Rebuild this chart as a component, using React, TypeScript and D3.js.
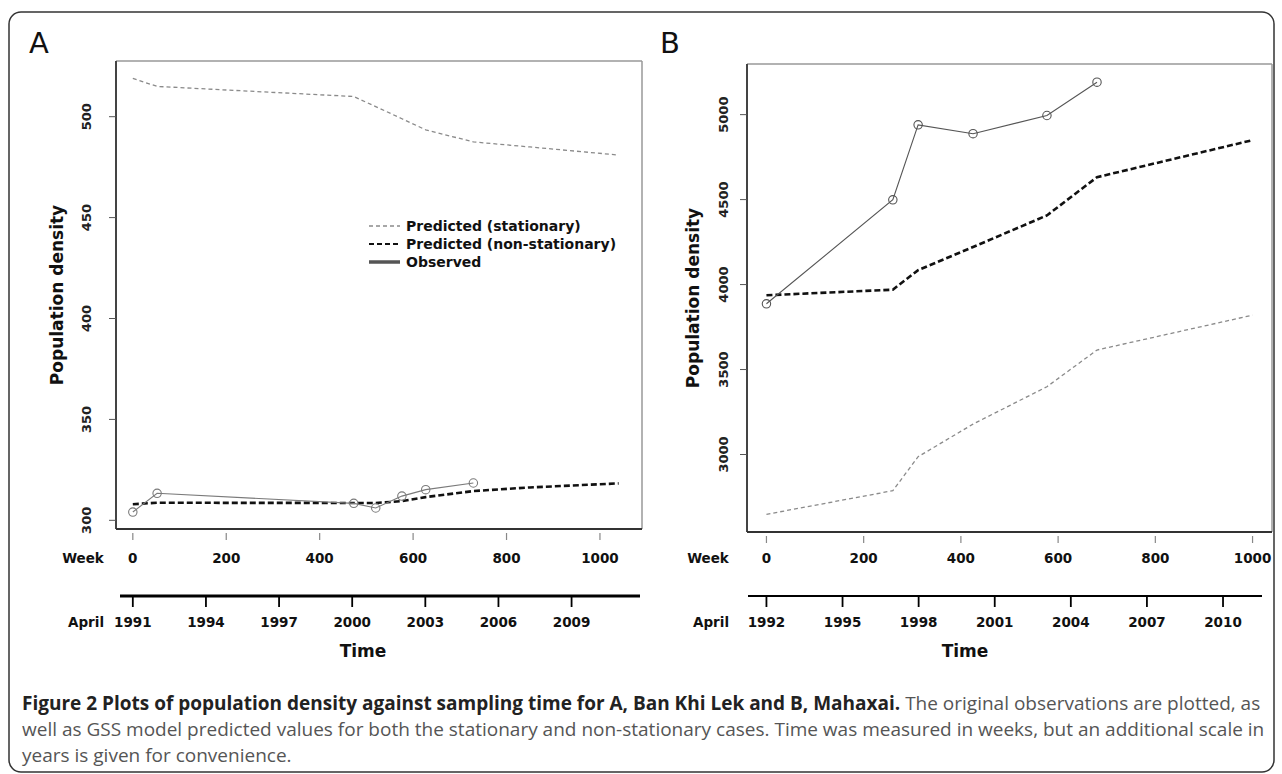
import React from 'react';
import * as d3 from 'd3';

// Panel A – Ban Khi Lek
const weeksObsA = [0, 52, 473, 520, 576, 627, 729];
const observedA = [304.1, 313.4, 308.4, 306.1, 312.0, 315.2, 318.5];
const weeksPredA = [0, 52, 473, 520, 576, 627, 729, 850, 1040];
const stationaryA = [519, 515, 510, 505, 499, 493.5, 487.5, 485, 481];
const nonStationaryA = [308, 308.7, 308.6, 308.6, 309.5, 311.5, 314.5, 316.3, 318.3];
const yTicksA = [300, 350, 400, 450, 500];
const yearTicksA = [1991, 1994, 1997, 2000, 2003, 2006, 2009];

// Panel B – Mahaxai
const weeksObsB = [0, 260, 312, 425, 577, 680];
const observedB = [3887, 4499, 4940, 4888, 4995, 5191];
const weeksPredB = [0, 260, 312, 425, 577, 680, 1000];
const stationaryB = [2648, 2787, 2987, 3179, 3399, 3615, 3820];
const nonStationaryB = [3937, 3970, 4085, 4221, 4407, 4632, 4850];
const yTicksB = [3000, 3500, 4000, 4500, 5000];
const yearTicksB = [1992, 1995, 1998, 2001, 2004, 2007, 2010];

const weekTicks = [0, 200, 400, 600, 800, 1000];
const legendLabels = ['Predicted (stationary)', 'Predicted (non-stationary)', 'Observed'];

const WEEKS_PER_YEAR = 52.18;
const FONT = '"DejaVu Sans", Verdana, sans-serif';

type PanelProps = {
  label: string;
  left: number; right: number; top: number; bottom: number;
  xDomain: [number, number];
  yDomain: [number, number];
  yTicks: number[];
  yearTicks: number[];
  weeksObs: number[]; observed: number[];
  weeksPred: number[]; stationary: number[]; nonStationary: number[];
  yearLine: [number, number];
  yearLineWidth: number;
  obsColor: string;
  titleX: number; tickLabelX: number; rowLabelX: number; timeX: number;
  legend?: boolean;
};

function Panel(p: PanelProps) {
  const x = d3.scaleLinear().domain(p.xDomain).range([p.left, p.right]);
  const y = d3.scaleLinear().domain(p.yDomain).range([p.bottom, p.top]);
  const line = d3.line<[number, number]>().x(d => x(d[0])).y(d => y(d[1]));
  const pts = (w: number[], v: number[]) => w.map((wk, i) => [wk, v[i]] as [number, number]);
  const yearX = (yr: number) => x((yr - p.yearTicks[0]) * WEEKS_PER_YEAR);
  const yMid = (p.top + p.bottom) / 2;
  const yearY = 596;

  return (
    <g>
      <text x={p.left - 87} y={53} fontFamily={FONT} fontSize={29} fill="#111">{p.label}</text>

      {/* plot box */}
      <line x1={p.left} x2={p.right} y1={p.top} y2={p.top} stroke="#999" strokeWidth={1.5} />
      <line x1={p.right} x2={p.right} y1={p.top} y2={p.bottom} stroke="#999" strokeWidth={1.5} />
      <line x1={p.left} x2={p.left} y1={p.top} y2={p.bottom} stroke="#444" strokeWidth={2} />
      <line x1={p.left} x2={p.right} y1={p.bottom} y2={p.bottom} stroke="#333" strokeWidth={2} />

      {/* y axis */}
      {p.yTicks.map(t => (
        <g key={t}>
          <line x1={p.left - 7} x2={p.left} y1={y(t)} y2={y(t)} stroke="#555" strokeWidth={1} />
          <text transform={`translate(${p.tickLabelX},${y(t)}) rotate(-90)`} textAnchor="middle"
            fontFamily={FONT} fontWeight="bold" fontSize={13} fill="#222">{t}</text>
        </g>
      ))}
      <text transform={`translate(${p.titleX},${yMid}) rotate(-90)`} textAnchor="middle"
        fontFamily={FONT} fontWeight="bold" fontSize={17} fill="#111">Population density</text>

      {/* week axis */}
      {weekTicks.map(t => (
        <g key={t}>
          <line x1={x(t)} x2={x(t)} y1={p.bottom + 4} y2={p.bottom + 11} stroke="#888" strokeWidth={1.2} />
          <text x={x(t)} y={563} textAnchor="middle" fontFamily={FONT} fontWeight="bold"
            fontSize={13.5} fill="#111">{t}</text>
        </g>
      ))}
      <text x={p.rowLabelX} y={563} textAnchor="middle" fontFamily={FONT} fontWeight="bold"
        fontSize={13.5} fill="#111">Week</text>

      {/* year axis */}
      <line x1={p.yearLine[0]} x2={p.yearLine[1]} y1={yearY} y2={yearY} stroke="#000" strokeWidth={p.yearLineWidth} />
      {p.yearTicks.map(t => (
        <g key={t}>
          <line x1={yearX(t)} x2={yearX(t)} y1={yearY} y2={yearY + 11} stroke="#000" strokeWidth={1.8} />
          <text x={yearX(t)} y={627} textAnchor="middle" fontFamily={FONT} fontWeight="bold"
            fontSize={13.5} fill="#111">{t}</text>
        </g>
      ))}
      <text x={p.rowLabelX + 3} y={627} textAnchor="middle" fontFamily={FONT} fontWeight="bold"
        fontSize={13.5} fill="#111">April</text>
      <text x={p.timeX} y={657} textAnchor="middle" fontFamily={FONT}
        fontWeight="bold" fontSize={17} fill="#111">Time</text>

      {/* series */}
      <path d={line(pts(p.weeksPred, p.stationary)) ?? ''} fill="none" stroke="#8a8a8a"
        strokeWidth={1.3} strokeDasharray="4,3" />
      <path d={line(pts(p.weeksPred, p.nonStationary)) ?? ''} fill="none" stroke="#111"
        strokeWidth={2.6} strokeDasharray="6,3" />
      <path d={line(pts(p.weeksObs, p.observed)) ?? ''} fill="none" stroke={p.obsColor} strokeWidth={1.1} />
      {p.weeksObs.map((w, i) => (
        <circle key={w} cx={x(w)} cy={y(p.observed[i])} r={4.2} fill="none" stroke={p.obsColor} strokeWidth={1.1} />
      ))}

      {p.legend && (
        <g fontFamily={FONT} fontWeight="bold" fontSize={14} fill="#111">
          <line x1={369} x2={400} y1={226} y2={226} stroke="#8a8a8a" strokeWidth={1.3} strokeDasharray="4,3" />
          <line x1={369} x2={400} y1={244} y2={244} stroke="#111" strokeWidth={2} strokeDasharray="5,3" />
          <line x1={369} x2={400} y1={262} y2={262} stroke="#555" strokeWidth={3.5} />
          {legendLabels.map((l, i) => (
            <text key={l} x={406} y={231 + i * 18}>{l}</text>
          ))}
        </g>
      )}
    </g>
  );
}

export default function App() {
  return (
    <div style={{ position: 'absolute', left: 0, top: 0, background: '#fff' }}>
      <svg width={1282} height={774} style={{ display: 'block' }}>
        <rect width={1282} height={774} fill="#fff" />
        <rect x={9} y={12} width={1265} height={760} rx={12} fill="none" stroke="#333" strokeWidth={1.5} />

        <Panel label="A" left={116} right={642} top={61} bottom={529}
          xDomain={[-36, 1090]} yDomain={[295.7, 527.6]} yTicks={yTicksA} yearTicks={yearTicksA}
          weeksObs={weeksObsA} observed={observedA} weeksPred={weeksPredA}
          stationary={stationaryA} nonStationary={nonStationaryA}
          yearLine={[120, 640]} yearLineWidth={3} obsColor="#7a7a7a"
          titleX={63} tickLabelX={91} rowLabelX={83} timeX={363} legend />

        <Panel label="B" left={747} right={1272} top={64} bottom={532}
          xDomain={[-40, 1040]} yDomain={[2544, 5298]} yTicks={yTicksB} yearTicks={yearTicksB}
          weeksObs={weeksObsB} observed={observedB} weeksPred={weeksPredB}
          stationary={stationaryB} nonStationary={nonStationaryB}
          yearLine={[748, 1262]} yearLineWidth={2} obsColor="#555"
          titleX={699} tickLabelX={728} rowLabelX={708} timeX={965} />

        <text fontFamily='"Open Sans", sans-serif' fontSize={19} fill="#555">
          <tspan x={22} y={710}>
            <tspan fontWeight="bold" fill="#222">Figure 2 Plots of population density against sampling time for A, Ban Khi Lek and B, Mahaxai.</tspan>
            {' The original observations are plotted, as'}
          </tspan>
          <tspan x={22} y={736}>well as GSS model predicted values for both the stationary and non-stationary cases. Time was measured in weeks, but an additional scale in</tspan>
          <tspan x={22} y={762}>years is given for convenience.</tspan>
        </text>
      </svg>
    </div>
  );
}
